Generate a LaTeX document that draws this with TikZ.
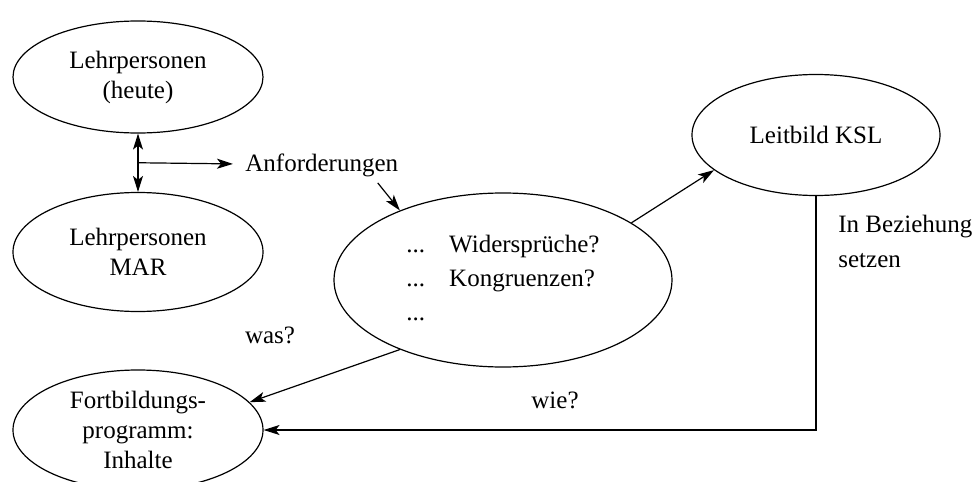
\documentclass[tikz,border=0pt]{standalone}
\usepackage{fontspec}
\setmainfont{Liberation Serif}
\usetikzlibrary{shapes.geometric,arrows.meta}

\begin{document}
\begin{tikzpicture}[x=0.5pt,y=-0.5pt,
blob/.style={ellipse, draw, line width=0.6pt, inner sep=0pt, align=center},
conn/.style={line width=0.6pt, -{Stealth[length=8pt,width=5pt,inset=2pt]}},
twoway/.style={line width=0.6pt, {Stealth[length=8pt,width=5pt,inset=2pt]}-{Stealth[length=8pt,width=5pt,inset=2pt]}},
note/.style={inner sep=0pt, align=left}]
\tikzstyle{every node}=[font=\fontsize{12.5}{15}\selectfont]

\useasboundingbox (0,0) rectangle (976,482);

% Ellipsen
\node (heute) [blob, minimum width=125pt, minimum height=56pt] at (138,77) {Lehrpersonen\\(heute)};
\node (mar) [blob, minimum width=125pt, minimum height=59.5pt] at (138,252) {Lehrpersonen\\MAR};
\node (mid) [blob, minimum width=169pt, minimum height=87pt] at (503,280)
  {\renewcommand{\arraystretch}{1.13}%
   \begin{tabular}{@{}l@{\hspace{12pt}}l@{}}
   ... & Widersprüche?\\
   ... & Kongruenzen?\\
   ... &
   \end{tabular}};
\node (leit) [blob, minimum width=124pt, minimum height=60.5pt] at (816,135) {Leitbild KSL};
\node (fort) [blob, minimum width=125pt, minimum height=60pt] at (138,430) {Fortbildungs-\\programm:\\Inhalte};

% Beschriftungen
\node (anf) [note, anchor=west] at (245,165) {Anforderungen};
\node (was) [note] at (270,335) {was?};
\node (wie) [note] at (555,400) {wie?};
\node (bez) [note, anchor=north west] at (838,215) {In Beziehung\\[2.5pt]setzen};

% Pfeile
\draw[twoway] (heute) -- (mar) coordinate[midway] (split);
\draw[conn, shorten >=6pt] (split) -- (anf);
\draw[conn] ([xshift=28pt,yshift=-3pt]anf.south) -- (mid.146);
\draw[conn] (mid.24) -- (leit.199);
\draw[conn] (mid.214) -- (fort.14);
\draw[conn] (leit.south) |- (fort.east);

\end{tikzpicture}
\end{document}
